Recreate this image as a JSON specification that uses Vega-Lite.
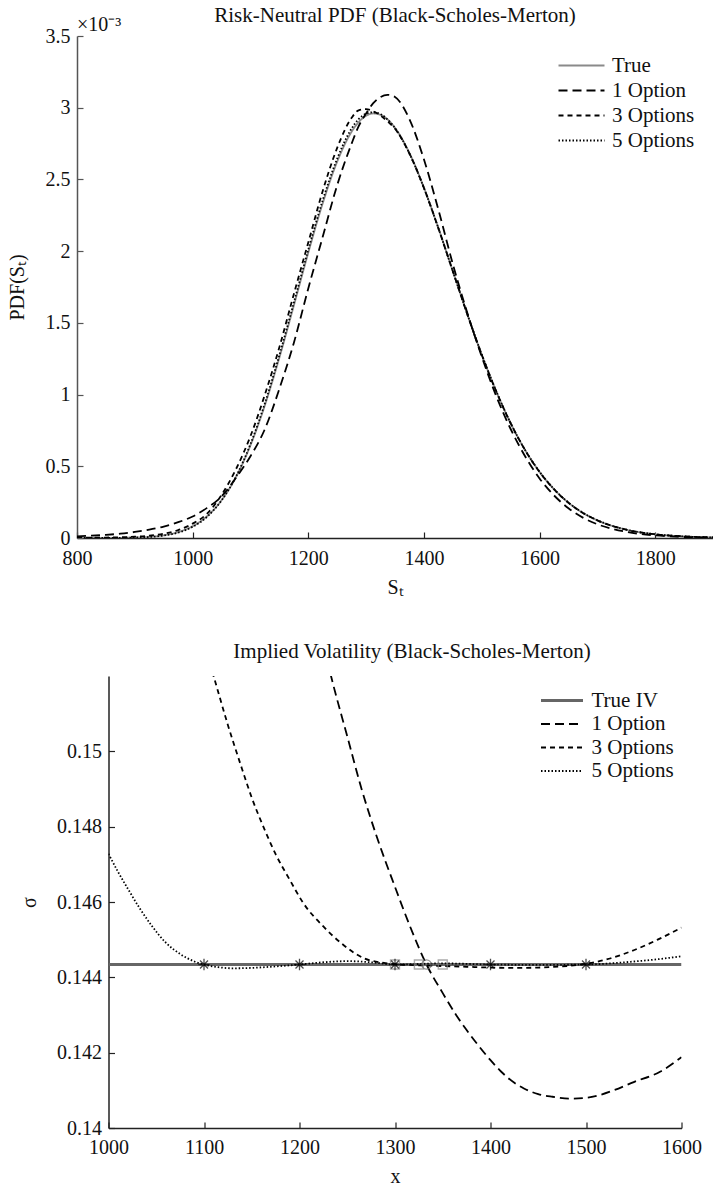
{
  "$schema": "https://vega.github.io/schema/vega-lite/v6.json",
  "background": "white",
  "padding": {"left": 7, "top": 5, "right": 0, "bottom": 0},
  "bounds": "flush",
  "spacing": 138,
  "center": true,
  "resolve": {
    "scale": {"x": "independent", "y": "independent", "color": "independent", "strokeDash": "independent"},
    "legend": {"color": "independent", "strokeDash": "independent"},
    "axis": {"x": "independent", "y": "independent"}
  },
  "config": {
    "font": "Liberation Serif",
    "view": {"stroke": null},
    "style": {
      "guide-label": {"font": "Liberation Serif", "fontSize": 20, "fill": "#111"},
      "guide-title": {"font": "Liberation Serif", "fontSize": 20, "fill": "#111", "fontWeight": "normal"},
      "group-title": {"font": "Liberation Serif", "fontSize": 21, "fill": "#111", "fontWeight": "normal"}
    },
    "axis": {
      "labelFont": "Liberation Serif", "titleFont": "Liberation Serif",
      "labelFontSize": 20, "titleFontSize": 20, "labelColor": "#111", "titleColor": "#111",
      "titleFontWeight": "normal", "grid": false, "tickSize": -6, "labelPadding": 13, "labelFlush": false,
      "domainColor": "#222", "tickColor": "#222", "domainWidth": 1.5, "tickWidth": 1.2
    },
    "legend": {"labelFont": "Liberation Serif", "labelFontSize": 21, "labelColor": "#111"},
    "title": {"font": "Liberation Serif", "fontSize": 21, "fontWeight": "normal", "color": "#111", "frame": "group"}
  },
  "datasets": {
    "pdf": [
      {"S":800,"series":"True","pdf":0},{"S":825,"series":"True","pdf":0.0000001},{"S":850,"series":"True","pdf":0.0000003},{"S":875,"series":"True","pdf":0.000001},{"S":900,"series":"True","pdf":0.000003},{"S":925,"series":"True","pdf":0.000008},{"S":950,"series":"True","pdf":0.000019},{"S":975,"series":"True","pdf":0.000041},{"S":1000,"series":"True","pdf":0.000082},{"S":1025,"series":"True","pdf":0.000152},{"S":1050,"series":"True","pdf":0.000263},{"S":1075,"series":"True","pdf":0.000425},{"S":1100,"series":"True","pdf":0.000646},{"S":1125,"series":"True","pdf":0.000926},{"S":1150,"series":"True","pdf":0.001257},{"S":1175,"series":"True","pdf":0.00162},{"S":1200,"series":"True","pdf":0.001989},{"S":1225,"series":"True","pdf":0.002334},{"S":1250,"series":"True","pdf":0.002624},{"S":1275,"series":"True","pdf":0.002833},{"S":1287,"series":"True","pdf":0.002899},{"S":1300,"series":"True","pdf":0.002944},{"S":1312,"series":"True","pdf":0.00296},{"S":1325,"series":"True","pdf":0.002951},{"S":1337,"series":"True","pdf":0.002919},{"S":1350,"series":"True","pdf":0.00286},{"S":1375,"series":"True","pdf":0.002684},{"S":1400,"series":"True","pdf":0.002443},{"S":1425,"series":"True","pdf":0.002162},{"S":1450,"series":"True","pdf":0.001861},{"S":1475,"series":"True","pdf":0.001561},{"S":1500,"series":"True","pdf":0.001278},{"S":1525,"series":"True","pdf":0.001023},{"S":1550,"series":"True","pdf":0.0008},{"S":1575,"series":"True","pdf":0.000613},{"S":1600,"series":"True","pdf":0.000461},{"S":1625,"series":"True","pdf":0.00034},{"S":1650,"series":"True","pdf":0.000246},{"S":1675,"series":"True","pdf":0.000175},{"S":1700,"series":"True","pdf":0.000123},{"S":1750,"series":"True","pdf":0.000058},{"S":1800,"series":"True","pdf":0.000026},{"S":1850,"series":"True","pdf":0.000011},{"S":1900,"series":"True","pdf":0.000004},
      {"S":800,"series":"1 Option","pdf":0.000012},{"S":825,"series":"1 Option","pdf":0.000016},{"S":850,"series":"1 Option","pdf":0.000022},{"S":875,"series":"1 Option","pdf":0.00003},{"S":900,"series":"1 Option","pdf":0.000042},{"S":925,"series":"1 Option","pdf":0.000058},{"S":950,"series":"1 Option","pdf":0.00008},{"S":975,"series":"1 Option","pdf":0.00011},{"S":1000,"series":"1 Option","pdf":0.00015},{"S":1025,"series":"1 Option","pdf":0.00021},{"S":1050,"series":"1 Option","pdf":0.00029},{"S":1075,"series":"1 Option","pdf":0.00042},{"S":1100,"series":"1 Option","pdf":0.00057},{"S":1125,"series":"1 Option","pdf":0.00076},{"S":1150,"series":"1 Option","pdf":0.00104},{"S":1175,"series":"1 Option","pdf":0.00136},{"S":1200,"series":"1 Option","pdf":0.00174},{"S":1225,"series":"1 Option","pdf":0.0021},{"S":1250,"series":"1 Option","pdf":0.00246},{"S":1275,"series":"1 Option","pdf":0.00275},{"S":1287,"series":"1 Option","pdf":0.00287},{"S":1300,"series":"1 Option","pdf":0.00296},{"S":1312,"series":"1 Option","pdf":0.00303},{"S":1325,"series":"1 Option","pdf":0.003075},{"S":1337,"series":"1 Option","pdf":0.00309},{"S":1350,"series":"1 Option","pdf":0.003075},{"S":1375,"series":"1 Option","pdf":0.00292},{"S":1400,"series":"1 Option","pdf":0.00264},{"S":1425,"series":"1 Option","pdf":0.00229},{"S":1450,"series":"1 Option","pdf":0.00191},{"S":1475,"series":"1 Option","pdf":0.00157},{"S":1500,"series":"1 Option","pdf":0.001265},{"S":1525,"series":"1 Option","pdf":0.00099},{"S":1550,"series":"1 Option","pdf":0.00076},{"S":1575,"series":"1 Option","pdf":0.00057},{"S":1600,"series":"1 Option","pdf":0.000415},{"S":1625,"series":"1 Option","pdf":0.000297},{"S":1650,"series":"1 Option","pdf":0.000207},{"S":1675,"series":"1 Option","pdf":0.000142},{"S":1700,"series":"1 Option","pdf":0.000096},{"S":1750,"series":"1 Option","pdf":0.000043},{"S":1800,"series":"1 Option","pdf":0.000018},{"S":1850,"series":"1 Option","pdf":0.000007},{"S":1900,"series":"1 Option","pdf":0.000003},
      {"S":800,"series":"3 Options","pdf":0.000001},{"S":825,"series":"3 Options","pdf":0.000002},{"S":850,"series":"3 Options","pdf":0.000003},{"S":875,"series":"3 Options","pdf":0.000005},{"S":900,"series":"3 Options","pdf":0.000009},{"S":925,"series":"3 Options","pdf":0.000016},{"S":950,"series":"3 Options","pdf":0.00003},{"S":975,"series":"3 Options","pdf":0.000055},{"S":1000,"series":"3 Options","pdf":0.0001},{"S":1025,"series":"3 Options","pdf":0.00017},{"S":1050,"series":"3 Options","pdf":0.0003},{"S":1075,"series":"3 Options","pdf":0.00048},{"S":1100,"series":"3 Options","pdf":0.00071},{"S":1125,"series":"3 Options","pdf":0.001},{"S":1150,"series":"3 Options","pdf":0.00133},{"S":1175,"series":"3 Options","pdf":0.0017},{"S":1200,"series":"3 Options","pdf":0.00206},{"S":1225,"series":"3 Options","pdf":0.00242},{"S":1250,"series":"3 Options","pdf":0.00272},{"S":1275,"series":"3 Options","pdf":0.00293},{"S":1287,"series":"3 Options","pdf":0.002982},{"S":1300,"series":"3 Options","pdf":0.00299},{"S":1312,"series":"3 Options","pdf":0.002975},{"S":1325,"series":"3 Options","pdf":0.002945},{"S":1337,"series":"3 Options","pdf":0.002905},{"S":1350,"series":"3 Options","pdf":0.002853},{"S":1375,"series":"3 Options","pdf":0.00268},{"S":1400,"series":"3 Options","pdf":0.002441},{"S":1425,"series":"3 Options","pdf":0.00216},{"S":1450,"series":"3 Options","pdf":0.00186},{"S":1475,"series":"3 Options","pdf":0.001561},{"S":1500,"series":"3 Options","pdf":0.001278},{"S":1525,"series":"3 Options","pdf":0.001023},{"S":1550,"series":"3 Options","pdf":0.0008},{"S":1575,"series":"3 Options","pdf":0.000613},{"S":1600,"series":"3 Options","pdf":0.000461},{"S":1625,"series":"3 Options","pdf":0.00034},{"S":1650,"series":"3 Options","pdf":0.000246},{"S":1675,"series":"3 Options","pdf":0.000175},{"S":1700,"series":"3 Options","pdf":0.000123},{"S":1750,"series":"3 Options","pdf":0.000058},{"S":1800,"series":"3 Options","pdf":0.000026},{"S":1850,"series":"3 Options","pdf":0.000011},{"S":1900,"series":"3 Options","pdf":0.000004},
      {"S":800,"series":"5 Options","pdf":0},{"S":825,"series":"5 Options","pdf":0.0000001},{"S":850,"series":"5 Options","pdf":0.0000004},{"S":875,"series":"5 Options","pdf":0.000001},{"S":900,"series":"5 Options","pdf":0.000003},{"S":925,"series":"5 Options","pdf":0.000007},{"S":950,"series":"5 Options","pdf":0.000017},{"S":975,"series":"5 Options","pdf":0.000038},{"S":1000,"series":"5 Options","pdf":0.000078},{"S":1025,"series":"5 Options","pdf":0.000148},{"S":1050,"series":"5 Options","pdf":0.000262},{"S":1075,"series":"5 Options","pdf":0.000428},{"S":1100,"series":"5 Options","pdf":0.000655},{"S":1125,"series":"5 Options","pdf":0.00094},{"S":1150,"series":"5 Options","pdf":0.001275},{"S":1175,"series":"5 Options","pdf":0.00164},{"S":1200,"series":"5 Options","pdf":0.00201},{"S":1225,"series":"5 Options","pdf":0.002355},{"S":1250,"series":"5 Options","pdf":0.002645},{"S":1275,"series":"5 Options","pdf":0.002855},{"S":1287,"series":"5 Options","pdf":0.00292},{"S":1300,"series":"5 Options","pdf":0.002958},{"S":1312,"series":"5 Options","pdf":0.002968},{"S":1325,"series":"5 Options","pdf":0.002955},{"S":1337,"series":"5 Options","pdf":0.002918},{"S":1350,"series":"5 Options","pdf":0.002858},{"S":1375,"series":"5 Options","pdf":0.00268},{"S":1400,"series":"5 Options","pdf":0.00244},{"S":1425,"series":"5 Options","pdf":0.00216},{"S":1450,"series":"5 Options","pdf":0.00186},{"S":1475,"series":"5 Options","pdf":0.001562},{"S":1500,"series":"5 Options","pdf":0.00128},{"S":1525,"series":"5 Options","pdf":0.001025},{"S":1550,"series":"5 Options","pdf":0.000801},{"S":1575,"series":"5 Options","pdf":0.000614},{"S":1600,"series":"5 Options","pdf":0.000462},{"S":1625,"series":"5 Options","pdf":0.000341},{"S":1650,"series":"5 Options","pdf":0.000247},{"S":1675,"series":"5 Options","pdf":0.000176},{"S":1700,"series":"5 Options","pdf":0.000124},{"S":1750,"series":"5 Options","pdf":0.000058},{"S":1800,"series":"5 Options","pdf":0.000026},{"S":1850,"series":"5 Options","pdf":0.000011},{"S":1900,"series":"5 Options","pdf":0.000004}
    ],
    "iv": [
      {"x":1000,"series":"True IV","sigma":0.14434},{"x":1600,"series":"True IV","sigma":0.14434},
      {"x":1200,"series":"1 Option","sigma":0.1557},{"x":1215,"series":"1 Option","sigma":0.154},{"x":1233,"series":"1 Option","sigma":0.152},{"x":1250,"series":"1 Option","sigma":0.1504},{"x":1265,"series":"1 Option","sigma":0.149},{"x":1280,"series":"1 Option","sigma":0.1478},{"x":1300,"series":"1 Option","sigma":0.1464},{"x":1315,"series":"1 Option","sigma":0.1454},{"x":1333,"series":"1 Option","sigma":0.14434},{"x":1350,"series":"1 Option","sigma":0.14358},{"x":1364,"series":"1 Option","sigma":0.143},{"x":1375,"series":"1 Option","sigma":0.1426},{"x":1387,"series":"1 Option","sigma":0.1422},{"x":1400,"series":"1 Option","sigma":0.1418},{"x":1411,"series":"1 Option","sigma":0.1415},{"x":1425,"series":"1 Option","sigma":0.1412},{"x":1435,"series":"1 Option","sigma":0.14105},{"x":1450,"series":"1 Option","sigma":0.1409},{"x":1465,"series":"1 Option","sigma":0.14083},{"x":1483,"series":"1 Option","sigma":0.14078},{"x":1500,"series":"1 Option","sigma":0.1408},{"x":1515,"series":"1 Option","sigma":0.14088},{"x":1530,"series":"1 Option","sigma":0.14101},{"x":1550,"series":"1 Option","sigma":0.14122},{"x":1578,"series":"1 Option","sigma":0.1415},{"x":1600,"series":"1 Option","sigma":0.14188},
      {"x":1095,"series":"3 Options","sigma":0.15325},{"x":1110,"series":"3 Options","sigma":0.152},{"x":1125,"series":"3 Options","sigma":0.1507},{"x":1140,"series":"3 Options","sigma":0.14952},{"x":1150,"series":"3 Options","sigma":0.14877},{"x":1163,"series":"3 Options","sigma":0.14795},{"x":1175,"series":"3 Options","sigma":0.14727},{"x":1190,"series":"3 Options","sigma":0.14658},{"x":1204,"series":"3 Options","sigma":0.14597},{"x":1225,"series":"3 Options","sigma":0.14535},{"x":1244,"series":"3 Options","sigma":0.1449},{"x":1268,"series":"3 Options","sigma":0.1445},{"x":1290,"series":"3 Options","sigma":0.14438},{"x":1300,"series":"3 Options","sigma":0.14435},{"x":1325,"series":"3 Options","sigma":0.14432},{"x":1350,"series":"3 Options","sigma":0.1443},{"x":1375,"series":"3 Options","sigma":0.14428},{"x":1400,"series":"3 Options","sigma":0.14426},{"x":1425,"series":"3 Options","sigma":0.14425},{"x":1450,"series":"3 Options","sigma":0.14426},{"x":1475,"series":"3 Options","sigma":0.14429},{"x":1500,"series":"3 Options","sigma":0.14436},{"x":1525,"series":"3 Options","sigma":0.1445},{"x":1550,"series":"3 Options","sigma":0.14472},{"x":1575,"series":"3 Options","sigma":0.145},{"x":1600,"series":"3 Options","sigma":0.14532},
      {"x":1000,"series":"5 Options","sigma":0.14728},{"x":1010,"series":"5 Options","sigma":0.1468},{"x":1021,"series":"5 Options","sigma":0.14632},{"x":1033,"series":"5 Options","sigma":0.14582},{"x":1045,"series":"5 Options","sigma":0.14538},{"x":1060,"series":"5 Options","sigma":0.14492},{"x":1075,"series":"5 Options","sigma":0.14462},{"x":1090,"series":"5 Options","sigma":0.14442},{"x":1100,"series":"5 Options","sigma":0.14434},{"x":1115,"series":"5 Options","sigma":0.14427},{"x":1130,"series":"5 Options","sigma":0.14424},{"x":1150,"series":"5 Options","sigma":0.14425},{"x":1175,"series":"5 Options","sigma":0.14429},{"x":1200,"series":"5 Options","sigma":0.14434},{"x":1225,"series":"5 Options","sigma":0.1444},{"x":1250,"series":"5 Options","sigma":0.14443},{"x":1275,"series":"5 Options","sigma":0.1444},{"x":1300,"series":"5 Options","sigma":0.14434},{"x":1350,"series":"5 Options","sigma":0.14437},{"x":1400,"series":"5 Options","sigma":0.14434},{"x":1450,"series":"5 Options","sigma":0.14433},{"x":1500,"series":"5 Options","sigma":0.14434},{"x":1525,"series":"5 Options","sigma":0.14437},{"x":1550,"series":"5 Options","sigma":0.14442},{"x":1575,"series":"5 Options","sigma":0.14448},{"x":1600,"series":"5 Options","sigma":0.14456}
    ],
    "ivpts": [
      {"x":1300,"sigma":0.14434,"set":"3 Options"},{"x":1325,"sigma":0.14434,"set":"3 Options"},{"x":1350,"sigma":0.14434,"set":"3 Options"},
      {"x":1333,"sigma":0.14434,"set":"1 Option"},
      {"x":1100,"sigma":0.14434,"set":"5 Options"},{"x":1200,"sigma":0.14434,"set":"5 Options"},{"x":1300,"sigma":0.14434,"set":"5 Options"},{"x":1400,"sigma":0.14434,"set":"5 Options"},{"x":1500,"sigma":0.14434,"set":"5 Options"}
    ]
  },
  "vconcat": [
    {
      "title": {"text": "Risk-Neutral PDF (Black-Scholes-Merton)", "offset": -11, "frame": "group", "font": "Liberation Serif", "fontSize": 21},
      "width": 636,
      "height": 502,
      "layer": [
        {
          "data": {"name": "pdf"},
          "transform": [{"filter": "datum.series === 'True'"}],
          "mark": {"type": "line", "interpolate": "monotone", "clip": true, "strokeWidth": 1.8},
          "encoding": {
            "x": {"field": "S", "type": "quantitative", "scale": {"domain": [800, 1900], "nice": false, "zero": false},
                  "axis": {"title": "Sₜ", "values": [800, 1000, 1200, 1400, 1600, 1800], "format": "d", "labelPadding": 16, "titlePadding": 9, "labelFont": "Liberation Serif", "titleFont": "Liberation Serif"}},
            "y": {"field": "pdf", "type": "quantitative", "scale": {"domain": [0, 0.0035], "nice": false},
                  "axis": {"title": "PDF(Sₜ)", "values": [0, 0.0005, 0.001, 0.0015, 0.002, 0.0025, 0.003, 0.0035],
                           "labelExpr": "format(datum.value*1000, '~g')", "domainColor": "#555", "tickColor": "#555", "titlePadding": 18, "labelFont": "Liberation Serif", "titleFont": "Liberation Serif"}},
            "color": {"field": "series", "type": "nominal",
                      "scale": {"domain": ["True", "1 Option", "3 Options", "5 Options"], "range": ["#8a8a8a", "#000000", "#000000", "#000000"]},
                      "legend": {"title": null, "orient": "none", "legendX": 494, "legendY": 19, "symbolType": "stroke", "symbolSize": 2116, "symbolStrokeWidth": 1.8, "labelFontSize": 21, "labelFont": "Liberation Serif", "labelColor": "#111", "labelOffset": 20, "rowPadding": 3,
                                 "encode": {"symbols": {"update": {"strokeWidth": {"signal": "datum.value === 'True' ? 1.8 : 1.8"}}}}}},
            "strokeDash": {"field": "series", "type": "nominal",
                      "scale": {"domain": ["True", "1 Option", "3 Options", "5 Options"], "range": [[1, 0], [9, 5], [5, 4], [1.5, 2]]},
                      "legend": {"title": null, "orient": "none", "legendX": 494, "legendY": 19, "symbolType": "stroke", "symbolSize": 2116, "symbolStrokeWidth": 1.8, "labelFontSize": 21, "labelFont": "Liberation Serif", "labelColor": "#111", "labelOffset": 20, "rowPadding": 3,
                                 "encode": {"symbols": {"update": {"strokeWidth": {"signal": "datum.value === 'True' ? 1.8 : 1.8"}}}}}}
          }
        },
        {
          "data": {"name": "pdf"},
          "transform": [{"filter": "datum.series !== 'True'"}],
          "mark": {"type": "line", "interpolate": "monotone", "clip": true, "strokeWidth": 1.8},
          "encoding": {
            "x": {"field": "S", "type": "quantitative"},
            "y": {"field": "pdf", "type": "quantitative"},
            "color": {"field": "series", "type": "nominal"},
            "strokeDash": {"field": "series", "type": "nominal"}
          }
        },
        {
          "data": {"values": [{"S": 800, "pdf": 0.0035, "label": "×10⁻³"}]},
          "mark": {"type": "text", "align": "left", "baseline": "bottom", "dy": -1, "fontSize": 20, "font": "Liberation Serif", "color": "#111"},
          "encoding": {
            "x": {"field": "S", "type": "quantitative"},
            "y": {"field": "pdf", "type": "quantitative"},
            "text": {"field": "label"}
          }
        }
      ]
    },
    {
      "title": {"text": "Implied Volatility (Black-Scholes-Merton)", "offset": 14, "dx": 17, "frame": "group", "font": "Liberation Serif", "fontSize": 21},
      "width": 573,
      "height": 452,
      "layer": [
        {
          "data": {"name": "iv"},
          "transform": [{"filter": "datum.series === 'True IV'"}],
          "mark": {"type": "line", "clip": true, "strokeWidth": 3},
          "encoding": {
            "x": {"field": "x", "type": "quantitative", "scale": {"domain": [1000, 1600], "nice": false, "zero": false},
                  "axis": {"title": "x", "values": [1000, 1100, 1200, 1300, 1400, 1500, 1600], "format": "d", "labelPadding": 15, "titlePadding": 9, "labelFont": "Liberation Serif", "titleFont": "Liberation Serif"}},
            "y": {"field": "sigma", "type": "quantitative", "scale": {"domain": [0.14, 0.152], "nice": false, "zero": false},
                  "axis": {"title": "σ", "values": [0.14, 0.142, 0.144, 0.146, 0.148, 0.15], "format": ".3~f", "titlePadding": 17, "labelFont": "Liberation Serif", "titleFont": "Liberation Serif"}},
            "color": {"field": "series", "type": "nominal",
                      "scale": {"domain": ["True IV", "1 Option", "3 Options", "5 Options"], "range": ["#666666", "#000000", "#000000", "#000000"]},
                      "legend": {"title": null, "orient": "none", "legendX": 443, "legendY": 14, "symbolType": "stroke", "symbolSize": 1764, "symbolStrokeWidth": 1.8, "labelFontSize": 21, "labelFont": "Liberation Serif", "labelColor": "#111", "labelOffset": 19, "rowPadding": 1.5,
                                 "encode": {"symbols": {"update": {"strokeWidth": {"signal": "datum.value === 'True IV' ? 3 : 1.8"}}}}}},
            "strokeDash": {"field": "series", "type": "nominal",
                      "scale": {"domain": ["True IV", "1 Option", "3 Options", "5 Options"], "range": [[1, 0], [9, 5], [5, 4], [1.5, 2]]},
                      "legend": {"title": null, "orient": "none", "legendX": 443, "legendY": 14, "symbolType": "stroke", "symbolSize": 1764, "symbolStrokeWidth": 1.8, "labelFontSize": 21, "labelFont": "Liberation Serif", "labelColor": "#111", "labelOffset": 19, "rowPadding": 1.5,
                                 "encode": {"symbols": {"update": {"strokeWidth": {"signal": "datum.value === 'True IV' ? 3 : 1.8"}}}}}}
          }
        },
        {
          "data": {"name": "iv"},
          "transform": [{"filter": "datum.series !== 'True IV'"}],
          "mark": {"type": "line", "interpolate": "monotone", "clip": true, "strokeWidth": 1.8},
          "encoding": {
            "x": {"field": "x", "type": "quantitative"},
            "y": {"field": "sigma", "type": "quantitative"},
            "color": {"field": "series", "type": "nominal"},
            "strokeDash": {"field": "series", "type": "nominal"}
          }
        },
        {
          "data": {"name": "ivpts"},
          "transform": [{"filter": "datum.set === '3 Options'"}],
          "mark": {"type": "point", "shape": "square", "filled": false, "stroke": "#888888", "strokeWidth": 1.4, "size": 80},
          "encoding": {"x": {"field": "x", "type": "quantitative"}, "y": {"field": "sigma", "type": "quantitative"}}
        },
        {
          "data": {"name": "ivpts"},
          "transform": [{"filter": "datum.set === '1 Option'"}],
          "mark": {"type": "point", "shape": "circle", "filled": false, "stroke": "#666666", "strokeWidth": 1.4, "size": 85},
          "encoding": {"x": {"field": "x", "type": "quantitative"}, "y": {"field": "sigma", "type": "quantitative"}}
        },
        {
          "data": {"name": "ivpts"},
          "transform": [{"filter": "datum.set === '5 Options'"}],
          "mark": {"type": "point", "shape": "M-1,0L1,0M0,-1L0,1M-0.7,-0.7L0.7,0.7M-0.7,0.7L0.7,-0.7", "filled": false, "stroke": "#000000", "strokeWidth": 1.3, "size": 130},
          "encoding": {"x": {"field": "x", "type": "quantitative"}, "y": {"field": "sigma", "type": "quantitative"}}
        }
      ]
    }
  ]
}
